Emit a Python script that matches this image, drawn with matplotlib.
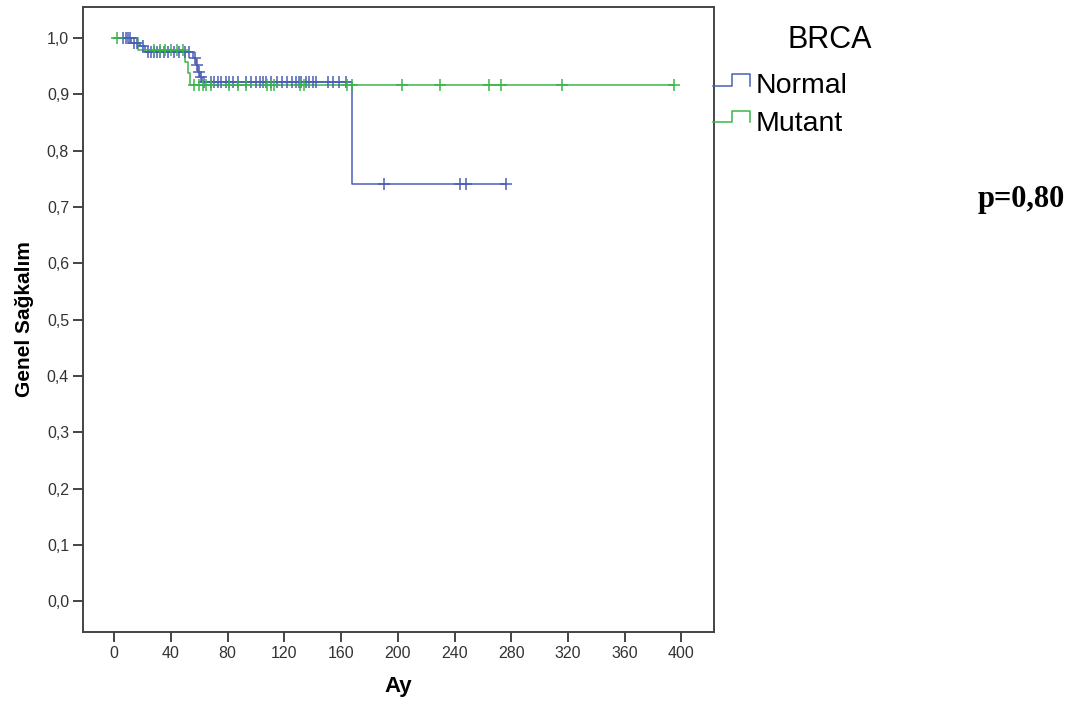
import matplotlib
matplotlib.use("Agg")
import matplotlib.pyplot as plt
import numpy as np
from matplotlib.lines import Line2D

# Kaplan-Meier steps (time in months, survival)
normal_t = [0, 12, 18, 22, 55.5, 58, 59, 60.5, 62, 167.5, 276]
normal_s = [1.0, 0.991, 0.985, 0.976, 0.965, 0.952, 0.940, 0.930, 0.922, 0.740, 0.740]
mutant_t = [0, 17, 50, 52, 53.5, 395]
mutant_s = [1.0, 0.979, 0.958, 0.937, 0.9165, 0.9165]

# censored observations
normal_cens = [6, 8, 10, 11, 14, 16, 20, 24, 26, 28, 30, 32, 35, 38, 42, 46, 50, 53,
               57, 58.5, 59.5, 61, 63.5, 68, 70.5, 73, 75, 79, 81, 83.5, 87, 93, 96.5,
               100, 102.5, 105, 107, 110.5, 115, 118.5, 122, 125.5, 128, 130.5, 131.5,
               135, 137.5, 140, 142, 150.5, 154, 158.5, 163.5, 190, 244, 248, 276]
mutant_cens = [2, 28, 32, 35.5, 40, 44, 48.5, 56.5, 60, 62.5, 65, 68, 81, 87, 93, 108,
               110.5, 113, 131, 134, 164.5, 168, 203, 230, 264, 273, 316, 395]

groups = ["Normal", "Mutant"]
colors = ["#4b5fb5", "#3cb54a"]
x_ticks = [0, 40, 80, 120, 160, 200, 240, 280, 320, 360, 400]
y_ticks = [0.0, 0.1, 0.2, 0.3, 0.4, 0.5, 0.6, 0.7, 0.8, 0.9, 1.0]

SANS = ["Liberation Sans", "DejaVu Sans"]
SPINE = "#444444"

W, H = 1085, 707
fig = plt.figure(figsize=(W / 100, H / 100), dpi=100)
ax = fig.add_axes([83 / W, 1 - 632 / H, (714 - 83) / W, (632 - 7) / H])


def surv_at(times, surv, t):
    idx = np.searchsorted(times, t, side="right") - 1
    return np.asarray(surv)[idx]


series = [(normal_t, normal_s, normal_cens), (mutant_t, mutant_s, mutant_cens)]
for (t, s, cens), col in zip(series, colors):
    ax.step(t, s, where="post", color=col, lw=1.1, zorder=2)
    ax.plot(cens, surv_at(t, s, cens), ls="none", marker="+", ms=8, mew=1.1,
            color=col, zorder=3)

ax.set_xlim(-22, 423)
ax.set_ylim(-0.0545, 1.055)
ax.set_xticks(x_ticks)
ax.set_yticks(y_ticks)
ax.set_xticklabels([str(v) for v in x_ticks])
ax.set_yticklabels([f"{v:.1f}".replace(".", ",") for v in y_ticks])
ax.tick_params(axis="both", length=7, width=1.4, color=SPINE, labelcolor="#333333",
               labelsize=11.5, pad=3)
for lab in ax.get_xticklabels() + ax.get_yticklabels():
    lab.set_family(SANS)
for sp in ax.spines.values():
    sp.set_color(SPINE)
    sp.set_linewidth(1.4)

ax.set_xlabel("Ay", family=SANS, fontweight="bold", fontsize=16, labelpad=11)
ax.set_ylabel("Genel Sağkalım", family=SANS, fontweight="bold", fontsize=15, labelpad=9)


# legend drawn to the right of the axes, step-shaped icons as in SPSS
def px(x, y):
    return x / W, 1 - y / H


fig.text(*px(830, 40), "BRCA", family=SANS, fontsize=22, ha="center", va="center")
icon_y = [(86, 74), (122, 110.5)]
text_y = [86, 124]
for name, col, (lo, hi), ty in zip(groups, colors, icon_y, text_y):
    xs = [713, 731.5, 731.5, 750, 750]
    ys = [lo, lo, hi, hi, lo]
    fx = [x / W for x in xs]
    fy = [1 - y / H for y in ys]
    fig.add_artist(Line2D(fx, fy, color=col, lw=1.1))
    fig.text(*px(756, ty), name, family=SANS, fontsize=20.5, ha="left", va="center")

fig.text(*px(978, 200), "p=0,80", family=["Liberation Serif", "DejaVu Serif"],
         fontweight="bold", fontsize=22, ha="left", va="center")

fig.savefig("out.png", dpi=100)
